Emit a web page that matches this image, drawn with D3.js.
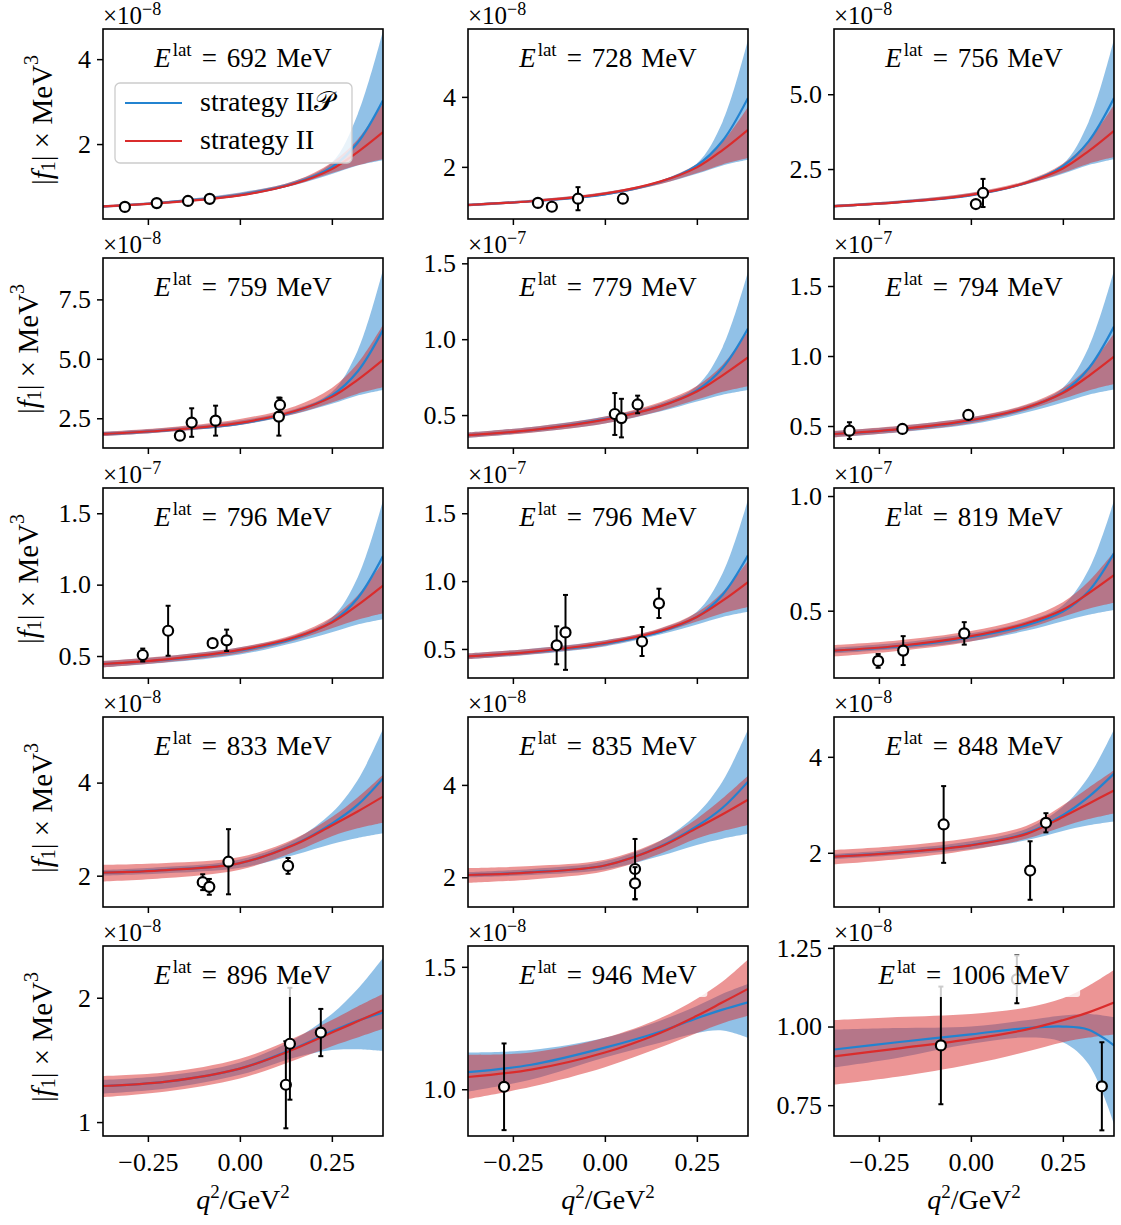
<!DOCTYPE html>
<html>
<head>
<meta charset="utf-8">
<script src="https://cdn.jsdelivr.net/npm/d3@7"></script>
<style>
body { margin: 0; background: #fff; }
svg text { font-family: "Liberation Serif", "Times New Roman", serif; fill: #000; }
</style>
</head>
<body>
<div id="chart"></div>
<script>
// one panel per lattice energy (MeV), read left to right, top to bottom
var energies = [692, 728, 756, 759, 779, 794, 796, 796, 819, 833, 835, 848, 896, 946, 1006];
var exponents = [-8, -8, -8, -8, -7, -7, -7, -7, -7, -8, -8, -8, -8, -8, -8];
var yDomains = [[0.235, 4.71], [0.51, 5.94], [0.83, 7.18], [1.25, 9.24], [0.283, 1.535],
  [0.343, 1.70], [0.346, 1.677], [0.286, 1.686], [0.2065, 1.035], [1.327, 5.41],
  [1.357, 5.47], [0.87, 4.83], [0.888, 2.416], [0.809, 1.585], [0.652, 1.256]];
var yTickVals = [[2, 4], [2, 4], [2.5, 5], [2.5, 5, 7.5], [0.5, 1, 1.5], [0.5, 1, 1.5], [0.5, 1, 1.5],
  [0.5, 1, 1.5], [0.5, 1], [2, 4], [2, 4], [2, 4], [1, 2], [1, 1.5], [0.75, 1, 1.25]];
var yTickLabels = [["2", "4"], ["2", "4"], ["2.5", "5.0"], ["2.5", "5.0", "7.5"], ["0.5", "1.0", "1.5"],
  ["0.5", "1.0", "1.5"], ["0.5", "1.0", "1.5"], ["0.5", "1.0", "1.5"], ["0.5", "1.0"], ["2", "4"],
  ["2", "4"], ["2", "4"], ["1", "2"], ["1.0", "1.5"], ["0.75", "1.00", "1.25"]];
var xTickVals = [-0.25, 0, 0.25];
var xTickLabels = ["\u22120.25", "0.00", "0.25"];

var qGrid = [-0.372, -0.2, 0, 0.15, 0.25, 0.32, 0.389];

// strategy IIP (blue): central value and band edges
var blueMid = [
  [0.53, 0.63, 0.805, 1.08, 1.455, 2.03, 3.03],
  [0.91, 1.017, 1.216, 1.568, 2.042, 2.746, 3.97],
  [1.26, 1.386, 1.621, 2.036, 2.596, 3.426, 4.87],
  [1.84, 1.993, 2.278, 2.782, 3.461, 4.468, 6.22],
  [0.368, 0.400, 0.473, 0.558, 0.663, 0.810, 1.07],
  [0.443, 0.474, 0.539, 0.627, 0.742, 0.911, 1.21],
  [0.444, 0.474, 0.539, 0.625, 0.739, 0.905, 1.2],
  [0.446, 0.476, 0.539, 0.625, 0.736, 0.900, 1.19],
  [0.326, 0.343, 0.385, 0.436, 0.496, 0.585, 0.75],
  [2.065, 2.125, 2.27, 2.68, 3.12, 3.52, 4.09],
  [2.05, 2.11, 2.255, 2.665, 3.105, 3.505, 4.07],
  [1.92, 2.007, 2.162, 2.404, 2.785, 3.166, 3.65],
  [1.29, 1.325, 1.43, 1.595, 1.73, 1.815, 1.88],
  [1.07, 1.10, 1.17, 1.235, 1.29, 1.325, 1.355],
  [0.927, 0.95, 0.975, 0.995, 1.0, 0.99, 0.94]];
var blueHi = [
  [0.56, 0.659, 0.86, 1.135, 1.567, 2.697, 4.67],
  [0.95, 1.062, 1.278, 1.605, 2.097, 3.29, 5.63],
  [1.31, 1.443, 1.697, 2.084, 2.665, 4.075, 6.84],
  [1.93, 2.094, 2.407, 2.885, 3.601, 5.34, 8.75],
  [0.385, 0.422, 0.491, 0.576, 0.692, 0.947, 1.445],
  [0.465, 0.499, 0.562, 0.648, 0.774, 1.06, 1.61],
  [0.465, 0.499, 0.561, 0.645, 0.769, 1.05, 1.59],
  [0.468, 0.502, 0.564, 0.649, 0.774, 1.057, 1.6],
  [0.338, 0.36, 0.402, 0.454, 0.524, 0.678, 0.98],
  [2.12, 2.19, 2.35, 2.78, 3.35, 4.05, 5.15],
  [2.11, 2.18, 2.345, 2.785, 3.37, 4.08, 5.2],
  [1.98, 2.071, 2.239, 2.498, 2.964, 3.586, 4.57],
  [1.34, 1.375, 1.48, 1.67, 1.87, 2.07, 2.32],
  [1.15, 1.16, 1.21, 1.28, 1.34, 1.39, 1.43],
  [0.99, 0.995, 1.0, 1.02, 1.035, 1.04, 1.03]];
var blueLo = [
  [0.50, 0.60, 0.769, 1.038, 1.295, 1.497, 1.62],
  [0.87, 0.99, 1.189, 1.508, 1.801, 2.04, 2.2],
  [1.21, 1.356, 1.599, 1.988, 2.344, 2.636, 2.83],
  [1.75, 1.925, 2.216, 2.681, 3.108, 3.457, 3.69],
  [0.35, 0.385, 0.445, 0.523, 0.589, 0.634, 0.665],
  [0.42, 0.454, 0.512, 0.597, 0.668, 0.723, 0.76],
  [0.42, 0.454, 0.511, 0.595, 0.666, 0.72, 0.757],
  [0.424, 0.459, 0.519, 0.606, 0.68, 0.736, 0.774],
  [0.314, 0.333, 0.367, 0.412, 0.454, 0.482, 0.503],
  [2.0, 2.05, 2.17, 2.45, 2.68, 2.81, 2.91],
  [2.0, 2.05, 2.17, 2.46, 2.7, 2.835, 2.94],
  [1.87, 1.948, 2.081, 2.26, 2.455, 2.572, 2.65],
  [1.23, 1.27, 1.38, 1.52, 1.58, 1.585, 1.57],
  [0.99, 1.04, 1.13, 1.19, 1.23, 1.24, 1.21],
  [0.87, 0.9, 0.945, 0.965, 0.95, 0.88, 0.69]];

// strategy II (red): central value and band edges
var redMid = [
  [0.53, 0.62, 0.79, 1.07, 1.41, 1.81, 2.28],
  [0.91, 1.018, 1.233, 1.577, 1.985, 2.48, 3.06],
  [1.26, 1.386, 1.638, 2.041, 2.52, 3.10, 3.78],
  [1.84, 1.996, 2.308, 2.807, 3.40, 4.118, 4.96],
  [0.368, 0.401, 0.470, 0.557, 0.655, 0.762, 0.88],
  [0.443, 0.476, 0.542, 0.631, 0.736, 0.857, 0.995],
  [0.444, 0.477, 0.543, 0.631, 0.735, 0.856, 0.993],
  [0.446, 0.479, 0.544, 0.632, 0.736, 0.856, 0.993],
  [0.326, 0.346, 0.389, 0.444, 0.504, 0.576, 0.655],
  [2.065, 2.12, 2.27, 2.67, 3.08, 3.38, 3.70],
  [2.05, 2.105, 2.255, 2.655, 3.065, 3.365, 3.68],
  [1.92, 2.003, 2.155, 2.389, 2.748, 3.024, 3.3],
  [1.29, 1.325, 1.43, 1.59, 1.72, 1.81, 1.90],
  [1.05, 1.08, 1.15, 1.23, 1.30, 1.355, 1.41],
  [0.905, 0.93, 0.96, 0.99, 1.02, 1.045, 1.076]];
var redHi = [
  [0.56, 0.656, 0.848, 1.136, 1.568, 2.108, 2.96],
  [0.95, 1.06, 1.281, 1.612, 2.082, 2.716, 3.71],
  [1.31, 1.444, 1.711, 2.112, 2.679, 3.448, 4.65],
  [1.93, 2.11, 2.47, 3.01, 3.775, 4.81, 6.43],
  [0.385, 0.422, 0.491, 0.585, 0.691, 0.831, 1.05],
  [0.465, 0.50, 0.562, 0.653, 0.771, 0.924, 1.16],
  [0.465, 0.50, 0.562, 0.653, 0.771, 0.924, 1.16],
  [0.468, 0.502, 0.563, 0.652, 0.768, 0.918, 1.15],
  [0.35, 0.37, 0.411, 0.468, 0.537, 0.627, 0.757],
  [2.23, 2.27, 2.40, 2.80, 3.26, 3.68, 4.17],
  [2.2, 2.245, 2.38, 2.79, 3.27, 3.71, 4.2],
  [2.06, 2.143, 2.309, 2.558, 2.99, 3.355, 3.72],
  [1.37, 1.40, 1.51, 1.68, 1.82, 1.93, 2.03],
  [1.14, 1.15, 1.21, 1.29, 1.37, 1.44, 1.53],
  [1.02, 1.03, 1.04, 1.06, 1.09, 1.13, 1.18]];
var redLo = [
  [0.50, 0.60, 0.77, 1.04, 1.317, 1.50, 1.65],
  [0.87, 0.987, 1.187, 1.505, 1.822, 2.071, 2.25],
  [1.21, 1.354, 1.599, 1.987, 2.376, 2.68, 2.9],
  [1.75, 1.924, 2.222, 2.693, 3.165, 3.534, 3.8],
  [0.35, 0.384, 0.445, 0.527, 0.602, 0.653, 0.69],
  [0.42, 0.456, 0.519, 0.61, 0.694, 0.754, 0.8],
  [0.42, 0.456, 0.519, 0.61, 0.694, 0.754, 0.8],
  [0.424, 0.461, 0.524, 0.617, 0.702, 0.764, 0.81],
  [0.30, 0.324, 0.366, 0.422, 0.474, 0.509, 0.535],
  [1.875, 1.95, 2.13, 2.52, 2.85, 3.02, 3.14],
  [1.88, 1.955, 2.13, 2.51, 2.84, 3.0, 3.13],
  [1.76, 1.866, 2.057, 2.29, 2.544, 2.703, 2.82],
  [1.20, 1.245, 1.35, 1.50, 1.61, 1.68, 1.75],
  [0.96, 1.01, 1.09, 1.17, 1.23, 1.27, 1.30],
  [0.815, 0.84, 0.88, 0.92, 0.95, 0.965, 0.975]];

// lattice data points: q^2, |f1|, error
var ptsQ = [[-0.3125, -0.226, -0.141, -0.082], [-0.182, -0.144, -0.073, 0.049], [0.0136, 0.033],
  [-0.163, -0.131, -0.066, 0.106, 0.109], [0.027, 0.045, 0.089], [-0.33, -0.186, -0.007],
  [-0.264, -0.195, -0.074, -0.036], [-0.131, -0.107, 0.101, 0.147], [-0.252, -0.184, -0.018],
  [-0.101, -0.083, -0.031, 0.131], [0.082, 0.082], [-0.074, 0.161, 0.204],
  [0.125, 0.136, 0.22], [-0.274], [-0.0815, 0.125, 0.356]];
var ptsV = [[0.52, 0.61, 0.66, 0.71], [0.97, 0.86, 1.09, 1.09], [1.33, 1.70],
  [1.77, 2.32, 2.40, 2.57, 3.06], [0.507, 0.48, 0.57], [0.467, 0.479, 0.579],
  [0.507, 0.677, 0.59, 0.61], [0.527, 0.622, 0.555, 0.836], [0.281, 0.326, 0.401],
  [1.86, 1.76, 2.30, 2.21], [2.18, 1.87], [2.59, 1.63, 2.625],
  [1.30, 1.63, 1.72], [1.01], [0.94, 1.15, 0.81]];
var ptsErr = [[0.03, 0.03, 0.03, 0.04], [0.05, 0.05, 0.33, 0.07], [0.1, 0.47],
  [0.1, 0.6, 0.63, 0.8, 0.3], [0.138, 0.127, 0.058], [0.06, 0.015, 0.015],
  [0.045, 0.175, 0.02, 0.075], [0.14, 0.276, 0.107, 0.108], [0.03, 0.063, 0.049],
  [0.17, 0.17, 0.7, 0.17], [0.65, 0.35], [0.8, 0.61, 0.2],
  [0.35, 0.45, 0.19], [0.177], [0.187, 0.076, 0.14]];

var colX = [103, 468, 834], rowY = [29, 258, 488, 717, 946];
var pw = 280, ph = 190;
var blue = "#2383d0", red = "#da2c2c";

var svg = d3.select("#chart").append("svg")
    .attr("width", 1121)
    .attr("height", 1225);

var x = d3.scaleLinear().domain([-0.372, 0.389]).range([0, pw]);

energies.forEach(function(E, i) {
  var row = Math.floor(i / 3), col = i % 3;
  var g = svg.append("g")
      .attr("transform", "translate(" + colX[col] + "," + rowY[row] + ")");
  var y = d3.scaleLinear().domain(yDomains[i]).range([ph, 0]);

  g.append("clipPath").attr("id", "clip" + i)
    .append("rect").attr("width", pw).attr("height", ph);
  var plot = g.append("g").attr("clip-path", "url(#clip" + i + ")");

  function band(lo, hi) {
    return qGrid.map(function(q, k) { return {q: q, lo: lo[i][k], hi: hi[i][k]}; });
  }
  function curve(mid) {
    return qGrid.map(function(q, k) { return {q: q, v: mid[i][k]}; });
  }
  var area = d3.area()
      .x(function(d) { return x(d.q); })
      .y0(function(d) { return y(d.lo); })
      .y1(function(d) { return y(d.hi); })
      .curve(d3.curveCatmullRom.alpha(0.5));
  var line = d3.line()
      .x(function(d) { return x(d.q); })
      .y(function(d) { return y(d.v); })
      .curve(d3.curveCatmullRom.alpha(0.5));

  plot.append("path").datum(band(blueLo, blueHi)).attr("d", area)
    .attr("fill", blue).attr("fill-opacity", 0.5);
  plot.append("path").datum(band(redLo, redHi)).attr("d", area)
    .attr("fill", red).attr("fill-opacity", 0.5);
  plot.append("path").datum(curve(blueMid)).attr("d", line)
    .attr("fill", "none").attr("stroke", blue).attr("stroke-width", 2.2);
  plot.append("path").datum(curve(redMid)).attr("d", line)
    .attr("fill", "none").attr("stroke", red).attr("stroke-width", 2.2);

  // data points with error bars
  var pts = ptsQ[i].map(function(q, k) { return {q: q, v: ptsV[i][k], e: ptsErr[i][k]}; });
  var pg = g.selectAll(".pt").data(pts).enter().append("g").attr("class", "pt");
  pg.append("line")
    .attr("x1", function(d) { return x(d.q); })
    .attr("x2", function(d) { return x(d.q); })
    .attr("y1", function(d) { return y(d.v - d.e); })
    .attr("y2", function(d) { return y(d.v + d.e); })
    .attr("stroke", "#000").attr("stroke-width", 2);
  [-1, 1].forEach(function(s) {
    pg.append("line")
      .attr("x1", function(d) { return x(d.q) - 2.5; })
      .attr("x2", function(d) { return x(d.q) + 2.5; })
      .attr("y1", function(d) { return y(d.v + s * d.e); })
      .attr("y2", function(d) { return y(d.v + s * d.e); })
      .attr("stroke", "#000").attr("stroke-width", 2);
  });
  pg.append("circle")
    .attr("cx", function(d) { return x(d.q); })
    .attr("cy", function(d) { return y(d.v); })
    .attr("r", 5)
    .attr("fill", "#fff").attr("stroke", "#000").attr("stroke-width", 2.2);

  // title with translucent white box
  var tbox = g.append("rect").attr("fill", "#fff").attr("fill-opacity", 0.8);
  var title = g.append("text")
      .attr("x", pw / 2).attr("y", 38)
      .attr("text-anchor", "middle")
      .style("font-size", "27px");
  title.append("tspan").style("font-style", "italic").text("E");
  title.append("tspan").attr("dy", -11).attr("dx", 2).style("font-size", "19px").text("lat");
  title.append("tspan").attr("dy", 11).attr("dx", 10).text("=");
  title.append("tspan").attr("dx", 10).text(E);
  title.append("tspan").attr("dx", 9).text("MeV");
  var bb = title.node().getBBox();
  tbox.attr("x", bb.x - 8).attr("y", 9).attr("width", bb.width + 18).attr("height", 42).attr("rx", 3);

  // frame
  g.append("rect").attr("width", pw).attr("height", ph)
    .attr("fill", "none").attr("stroke", "#000").attr("stroke-width", 1.6);

  // axes
  var yAxis = g.append("g")
      .call(d3.axisLeft(y).tickValues(yTickVals[i]).tickSize(6).tickPadding(6)
        .tickFormat(function(d, k) { return yTickLabels[i][k]; }));
  var xAxis = g.append("g").attr("transform", "translate(0," + ph + ")")
      .call(d3.axisBottom(x).tickValues(xTickVals).tickSize(6).tickPadding(11)
        .tickFormat(function(d, k) { return row === 4 ? xTickLabels[k] : ""; }));
  [yAxis, xAxis].forEach(function(a) {
    a.select(".domain").remove();
    a.selectAll(".tick line").attr("stroke", "#000").attr("stroke-width", 1.5);
    a.selectAll(".tick text").style("font-size", "26px")
      .style("font-family", "'Liberation Serif', serif").attr("fill", "#000");
  });

  // offset label
  var off = g.append("text").attr("x", 0).attr("y", -5).style("font-size", "25px");
  off.append("tspan").text("\u00d710");
  off.append("tspan").attr("dy", -9).style("font-size", "18px").text("\u2212" + Math.abs(exponents[i]));

  // y label on the first column
  if (col === 0) {
    var lx = (row === 1 || row === 2) ? 28 : 42;
    var yl = svg.append("text")
        .attr("transform", "translate(" + lx + "," + (rowY[row] + ph / 2 - 4) + ") rotate(-90)")
        .attr("text-anchor", "middle")
        .attr("dominant-baseline", "central")
        .style("font-size", "29px");
    yl.append("tspan").text("|");
    yl.append("tspan").style("font-style", "italic").text("f");
    yl.append("tspan").attr("dy", 6).style("font-size", "20px").text("1");
    yl.append("tspan").attr("dy", -6).text("| \u00d7 MeV");
    yl.append("tspan").attr("dy", -11).style("font-size", "20px").text("3");
  }

  // x label on the last row
  if (row === 4) {
    var xl = svg.append("text")
        .attr("x", colX[col] + pw / 2).attr("y", 1209)
        .attr("text-anchor", "middle")
        .style("font-size", "28px");
    xl.append("tspan").style("font-style", "italic").text("q");
    xl.append("tspan").attr("dy", -11).style("font-size", "19px").text("2");
    xl.append("tspan").attr("dy", 11).text("/GeV");
    xl.append("tspan").attr("dy", -11).style("font-size", "19px").text("2");
  }

  // legend in the first panel
  if (i === 0) {
    var lg = g.append("g").attr("transform", "translate(12,54)");
    lg.append("rect").attr("width", 237).attr("height", 80).attr("rx", 5)
      .attr("fill", "#fff").attr("fill-opacity", 0.8)
      .attr("stroke", "#cccccc").attr("stroke-width", 1.3);
    var entries = [{c: blue, t: "strategy II\ud835\udcab"}, {c: red, t: "strategy II"}];
    entries.forEach(function(e, k) {
      var yy = 20 + k * 38;
      lg.append("line").attr("x1", 10).attr("x2", 67).attr("y1", yy).attr("y2", yy)
        .attr("stroke", e.c).attr("stroke-width", 2.2);
      lg.append("text").attr("x", 85).attr("y", yy + 8).style("font-size", "28px").text(e.t);
    });
  }
});
</script>
</body>
</html>
